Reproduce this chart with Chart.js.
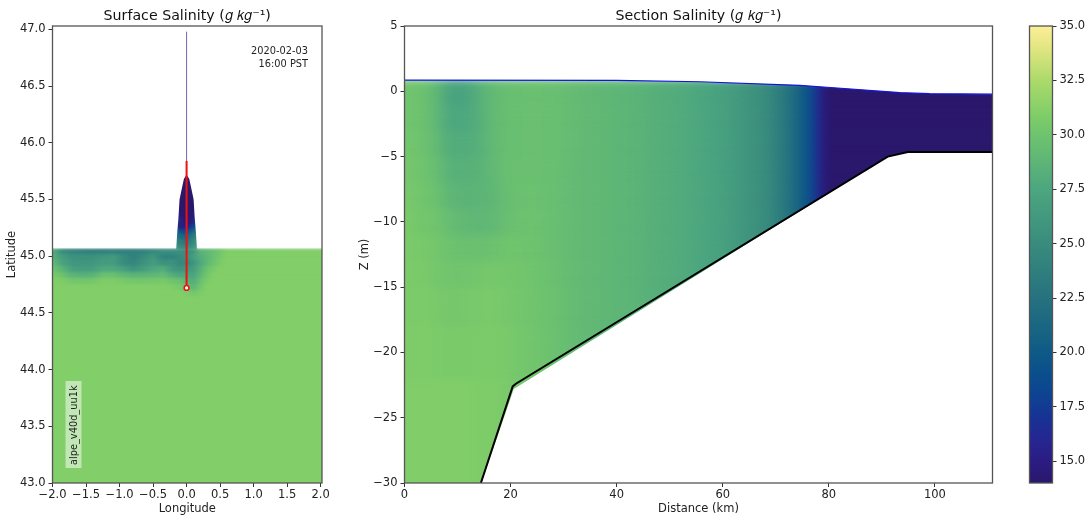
<!DOCTYPE html>
<html>
<head>
<meta charset="utf-8">
<title>Salinity</title>
<script src="https://cdn.jsdelivr.net/npm/chart.js@4"></script>
<style>
  html, body { margin: 0; background: #fff; }
  canvas { position: absolute; top: 0; }
</style>
</head>
<body>
<canvas id="map" width="374" height="520" style="left:0"></canvas>
<canvas id="section" width="717" height="520" style="left:340px"></canvas>
<canvas id="cbar" width="87" height="520" style="left:1000px"></canvas>
<script>
// colormap: salinity value and colour
const cmapSal = [14, 15, 16, 17, 18, 19, 20, 21, 22.5, 25, 27.5, 29, 30, 31, 32.5, 34, 35];
const cmapRgb = [[42,24,108],[43,28,130],[38,38,146],[24,50,148],[14,66,146],[10,78,140],[14,90,135],[24,100,131],[38,114,127],[57,140,125],[76,166,127],[97,184,117],[110,195,110],[130,206,104],[172,218,106],[226,230,130],[253,238,153]];
const cbarTicks = [15, 17.5, 20, 22.5, 25, 27.5, 30, 32.5, 35];

// surface map
const lonTicks = [-2, -1.5, -1, -0.5, 0, 0.5, 1, 1.5, 2];
const latTicks = [43, 43.5, 44, 44.5, 45, 45.5, 46, 46.5, 47];
const mapLon = [-2, -1.85, -1.7, -1.55, -1.4, -1.25, -1.1, -0.95, -0.8, -0.65, -0.5, -0.35, -0.2, -0.1, 0, 0.1, 0.2, 0.3, 0.4, 0.5, 0.6, 2.03];
const mapLat = [45.07, 45.02, 44.97, 44.915, 44.86, 44.81, 44.755, 44.7, 44.65];
const mapSal = [
  [28, 25, 24.2, 24, 23.8, 23.8, 24, 23.8, 23.8, 24, 24.8, 25.3, 25.3, 25.5, 25, 26, 28.5, 29, 29.5, 30.2, 30.9, 31],
  [28.3, 26.5, 25.5, 25.5, 25.5, 26, 26.3, 25, 23.8, 24.8, 26, 24, 24, 24.8, 25.3, 26.8, 28, 28.8, 29.6, 30.4, 31, 31],
  [29.2, 27, 26, 26, 26, 26.5, 26.5, 25, 24.3, 25.5, 26.5, 25.5, 25.5, 24.5, 24.5, 25.8, 27.5, 28.8, 29.8, 30.6, 31, 31],
  [30, 28.5, 26.8, 26.5, 26.7, 27.7, 27.7, 26.9, 25.7, 26.5, 27.5, 28, 26, 25.7, 26, 26.5, 28.2, 29.8, 30.5, 31, 31, 31],
  [30.7, 29.8, 28.6, 28.3, 28.6, 29.6, 29.7, 29, 28.6, 28.7, 28.8, 29.2, 28, 27.5, 27.4, 27.2, 28.7, 30.2, 30.9, 31, 31, 31],
  [31, 30.8, 30.3, 30.2, 30.3, 30.8, 30.8, 30.5, 30.3, 30.3, 30.4, 30.5, 30, 29.6, 28.6, 28, 29.5, 30.6, 31, 31, 31, 31],
  [31, 31, 31, 31, 31, 31, 31, 31, 31, 31, 31, 31, 30.8, 30.5, 29.8, 28.8, 30.2, 31, 31, 31, 31, 31],
  [31, 31, 31, 31, 31, 31, 31, 31, 31, 31, 31, 31, 31, 31, 30.8, 30.3, 30.7, 31, 31, 31, 31, 31],
  [31, 31, 31, 31, 31, 31, 31, 31, 31, 31, 31, 31, 31, 31, 31, 31, 31, 31, 31, 31, 31, 31]
];
const estuaryLon = [-0.16, -0.08, 0, 0.08, 0.16];
const estuaryLat = [45.75, 45.45, 45.38, 45.33, 45.28, 45.24, 45.2, 45.15, 45.1];
const estuaryFloor = [45.39, 45.32, 45.27, 45.22, 45.18, 45.14, 45.09, 45.07, 45.06];
const estuarySal = [
  [14, 14, 14, 14, 14],
  [14.5, 14, 14, 14, 14.5],
  [16, 14.3, 14, 14.3, 16],
  [19, 15, 14.3, 15, 19],
  [17, 15, 15, 18, 20],
  [21, 19, 18.5, 21, 23],
  [23, 21.5, 21, 23, 25],
  [24.5, 23.5, 23, 24.5, 26],
  [25.5, 25, 24.5, 25.5, 27]
];
const shoreLon = [-2.1, -0.155, -0.14, -0.12, -0.105, -0.07, -0.04, 0, 0.04, 0.07, 0.105, 0.12, 0.14, 0.155, 2.1];
const shoreLat = [45.07, 45.07, 45.2, 45.35, 45.5, 45.6, 45.68, 45.72, 45.68, 45.6, 45.5, 45.35, 45.2, 45.07, 45.07];
const riverLon = [0, 0];
const riverLat = [45.7, 46.98];
const transectLon = [0, 0];
const transectLat = [44.72, 45.84];

// section
const distTicks = [0, 20, 40, 60, 80, 100];
const zTicks = [-30, -25, -20, -15, -10, -5, 0, 5];
const sectionDist = [0, 3, 6, 8, 10, 12, 14, 16, 18, 20, 24, 28, 32];
const sectionTop = [1, -1, -3, -5, -7, -9, -11, -13, -15, -18, -22];
const sectionSal = [
  [30.2, 29.9, 29, 27.6, 27, 27.4, 28.3, 29, 29.4, 29.6, 29.7, 29.6, 29.3],
  [30.2, 29.9, 29, 27.8, 27.5, 27.7, 28.2, 28.9, 29.4, 29.6, 29.7, 29.6, 29.3],
  [30.3, 30, 29.2, 28.2, 27.9, 28, 28.3, 28.9, 29.4, 29.6, 29.7, 29.6, 29.3],
  [30.4, 30.1, 29.5, 28.6, 28.3, 28.4, 28.5, 28.9, 29.4, 29.7, 29.7, 29.6, 29.2],
  [30.5, 30.2, 29.8, 29, 28.7, 28.6, 28.7, 28.8, 29.2, 29.6, 29.8, 29.6, 29.2],
  [30.6, 30.3, 30.1, 29.5, 29.2, 29, 28.9, 29, 29.3, 29.7, 29.9, 29.6, 29.2],
  [30.6, 30.5, 30.3, 30, 29.8, 29.7, 29.6, 29.8, 30, 30.1, 30, 29.6, 29.2],
  [30.7, 30.6, 30.4, 30.2, 30.1, 30.2, 30.3, 30.4, 30.4, 30.3, 30.1, 29.7, 29.3],
  [30.7, 30.7, 30.6, 30.4, 30.4, 30.5, 30.5, 30.6, 30.5, 30.4, 30.1, 29.8, 29.3],
  [30.8, 30.8, 30.7, 30.6, 30.6, 30.6, 30.7, 30.7, 30.6, 30.5, 30.2, 29.8, 29.3],
  [30.9, 30.9, 30.9, 30.9, 30.9, 30.9, 30.8, 30.8, 30.7, 30.5, 30.2, 29.8, 29.3]
];
const tailDist = [36, 40, 44, 48, 52, 56, 60, 64, 68, 70, 72, 74, 75.5, 76.8, 78, 78.7, 79.5, 82, 111];
const tailSal = [29, 28.8, 28.6, 28.2, 27.9, 27.5, 26.9, 26, 25, 24, 22.8, 21.2, 19.8, 18.6, 16.3, 15, 14.1, 14, 14];
const surfaceDist = [0, 40, 55.7, 74.5, 79, 93.4, 99, 111];
const surfaceZ = [0.86, 0.84, 0.73, 0.46, 0.33, -0.1, -0.18, -0.22];
const bedDist = [14.4, 20.4, 21, 91.1, 94.9, 111];
const bedZ = [-30, -22.6, -22.4, -5, -4.65, -4.65];
const gridBedDist = [14.5, 20.6, 60, 91.1, 94.9, 111];
const gridBedZ = [-30, -22.8, -12.85, -5, -4.65, -4.65];

Chart.defaults.font.family = '"DejaVu Sans", sans-serif';
Chart.defaults.font.size = 11.5;
Chart.defaults.color = '#222';
Chart.defaults.animation = false;

function salColor(v) {
  let i = 0;
  while (i < cmapSal.length - 2 && v > cmapSal[i + 1]) i++;
  const t = Math.min(1, Math.max(0, (v - cmapSal[i]) / (cmapSal[i + 1] - cmapSal[i])));
  const c = cmapRgb[i].map((a, k) => Math.round(a + (cmapRgb[i + 1][k] - a) * t));
  return `rgb(${c[0]},${c[1]},${c[2]})`;
}

// a row of cells is one filled line, coloured along x by a gradient of its values
function rowGradient(chart, xs, vals) {
  if (!chart.chartArea) return 'transparent';
  const sx = chart.scales.x;
  const g = chart.ctx.createLinearGradient(sx.getPixelForValue(xs[0]), 0, sx.getPixelForValue(xs[xs.length - 1]), 0);
  xs.forEach((x, i) => g.addColorStop((x - xs[0]) / (xs[xs.length - 1] - xs[0]), salColor(vals[i])));
  return g;
}

function rowDataset(xs, top, floor, vals, order, blur, pad) {
  return {
    data: [{ x: xs[0] - pad, y: top }, { x: xs[xs.length - 1] + pad, y: top }],
    fill: { value: floor },
    backgroundColor: ctx => rowGradient(ctx.chart, xs, vals),
    borderWidth: 0,
    pointRadius: 0,
    order,
    blur
  };
}

function lineDataset(xs, ys, color, width, order, extra) {
  return Object.assign({
    data: xs.map((x, i) => ({ x, y: ys[i] })),
    borderColor: color,
    borderWidth: width,
    pointRadius: 0,
    fill: false,
    order
  }, extra);
}

// rows are softened so neighbouring ones run into each other like the shaded mesh
function setBlur(chart, meta) {
  const b = meta && chart.data.datasets[meta.index].blur;
  chart.ctx.filter = b ? `blur(${b}px)` : 'none';
}
const blurPlugin = {
  id: 'rowBlur',
  beforeDatasetsDraw(chart) {
    const metas = chart.getSortedVisibleDatasetMetas();
    setBlur(chart, metas[metas.length - 1]);
  },
  afterDatasetDraw(chart, args) {
    const metas = chart.getSortedVisibleDatasetMetas();
    setBlur(chart, metas[metas.indexOf(args.meta) - 1]);
  },
  afterDatasetsDraw(chart) {
    chart.ctx.filter = 'none';
  }
};

const framePlugin = {
  id: 'frame',
  afterDraw(chart) {
    const a = chart.chartArea, c = chart.ctx;
    c.save();
    c.strokeStyle = '#555';
    c.lineWidth = 1.3;
    c.strokeRect(a.left, a.top, a.right - a.left, a.bottom - a.top);
    c.restore();
  }
};

const labelPlugin = {
  id: 'mapLabels',
  afterDatasetsDraw(chart) {
    const c = chart.ctx;
    c.save();
    c.font = '9.8px "DejaVu Sans"';
    c.fillStyle = '#222';
    c.textAlign = 'right';
    c.fillText('2020-02-03', 308, 54);
    c.fillText('16:00 PST', 308, 67);
    c.fillStyle = 'rgba(255,255,255,0.5)';
    c.fillRect(65.5, 381, 16, 87);
    c.fillStyle = '#222';
    c.translate(77, 465);
    c.rotate(-Math.PI / 2);
    c.textAlign = 'left';
    c.fillText('alpe_v40d_uu1k', 0, 0);
    c.restore();
  }
};

function tickAxis(ticks, opts) {
  return Object.assign({
    type: 'linear',
    afterBuildTicks: s => { s.ticks = ticks.map(value => ({ value })); },
    grid: { drawOnChartArea: false, tickLength: 4, tickColor: '#333', drawTicks: true },
    border: { display: false },
    ticks: {
      autoSkip: false, maxRotation: 0, padding: opts.pad,
      callback: v => String(opts.digits ? v.toFixed(opts.digits) : v).replace('-', '\u2212')
    }
  }, opts.scale);
}

function panelOptions(titleText, xAxis, yAxis, xTitle, yTitle, yWidth, yTitlePad, rightPad) {
  xAxis.title = { display: true, text: xTitle, padding: { top: 0, bottom: 4 } };
  xAxis.afterFit = s => { s.height = 37; };
  yAxis.title = { display: true, text: yTitle, padding: { top: yTitlePad, bottom: 0 } };
  yAxis.afterFit = s => { s.width = yWidth; };
  return {
    responsive: false,
    layout: { padding: { right: rightPad } },
    plugins: {
      legend: { display: false },
      tooltip: { enabled: false },
      title: { display: true, fullSize: false, text: titleText, font: { size: 14.2, weight: 'normal' }, padding: { top: 7.5, bottom: 1.46 }, color: '#111' }
    },
    scales: { x: xAxis, y: yAxis }
  };
}

// surface panel
const mapSets = [];
mapLat.forEach((lat, i) => mapSets.push(rowDataset(mapLon, lat, 42, mapSal[i], 300 - i, 1.5, 0.5)));
estuaryLat.forEach((lat, i) => mapSets.push(rowDataset(estuaryLon, lat, estuaryFloor[i], estuarySal[i], 200 - i, 1.5, 0)));
mapSets.push(lineDataset(shoreLon, shoreLat, 'transparent', 0, 50, { fill: { value: 47.03 }, backgroundColor: '#fff' }));
mapSets.push(lineDataset(riverLon, riverLat, '#6f69ae', 1, 40));
mapSets.push(lineDataset(transectLon, transectLat, '#f01010', 2, 30, {
  pointRadius: [2.4, 0], pointBackgroundColor: '#fff', pointBorderColor: '#f01010', pointBorderWidth: 1.5
}));

new Chart(document.getElementById('map'), {
  type: 'line',
  data: { datasets: mapSets },
  options: panelOptions('Surface Salinity (\u{1D454} \u{1D458}\u{1D454}\u207B\u00B9)',
    tickAxis(lonTicks, { digits: 1, pad: 1, scale: { min: -2, max: 2.02 } }),
    tickAxis(latTicks, { digits: 1, pad: 3, scale: { min: 43, max: 47.03 } }),
    'Longitude', 'Latitude', 52.5, 5, 52),
  plugins: [blurPlugin, framePlugin, labelPlugin]
});

// section panel
const sectionSets = [];
const sectionX = sectionDist.concat(tailDist);
sectionTop.forEach((z, i) => sectionSets.push(rowDataset(sectionX, z, -40, sectionSal[i].concat(tailSal), 300 - i, 5, 10)));
sectionSets.push(lineDataset(gridBedDist, gridBedZ, 'transparent', 0, 60, { fill: { value: -30 }, backgroundColor: '#fff' }));
sectionSets.push(lineDataset(surfaceDist, surfaceZ, '#1414e0', 1.2, 40, { fill: { value: 5 }, backgroundColor: '#fff' }));
sectionSets.push(lineDataset(bedDist, bedZ, '#000', 2, 30));

new Chart(document.getElementById('section'), {
  type: 'line',
  data: { datasets: sectionSets },
  options: panelOptions('Section Salinity (\u{1D454} \u{1D458}\u{1D454}\u207B\u00B9)',
    tickAxis(distTicks, { pad: 1, scale: { min: 0, max: 110.85 } }),
    tickAxis(zTicks, { pad: 3, scale: { min: -30, max: 5 } }),
    'Distance (km)', 'Z (m)', 64.5, 18, 64.5),
  plugins: [blurPlugin, framePlugin]
});

// colorbar
function cbarGradient(chart) {
  if (!chart.chartArea) return 'transparent';
  const sy = chart.scales.y;
  const g = chart.ctx.createLinearGradient(0, sy.getPixelForValue(14), 0, sy.getPixelForValue(35));
  cmapSal.forEach((v, i) => g.addColorStop((v - 14) / 21, salColor(v)));
  return g;
}

new Chart(document.getElementById('cbar'), {
  type: 'line',
  data: {
    datasets: [{
      data: [{ x: 0, y: 35 }, { x: 1, y: 35 }],
      fill: { value: 14 },
      backgroundColor: ctx => cbarGradient(ctx.chart),
      borderWidth: 0,
      pointRadius: 0
    }]
  },
  options: {
    responsive: false,
    layout: { padding: { top: 26, bottom: 37, left: 29.5 } },
    plugins: { legend: { display: false }, tooltip: { enabled: false } },
    scales: {
      x: { type: 'linear', min: 0, max: 1, display: false },
      y: Object.assign(tickAxis(cbarTicks, { digits: 1, pad: 3, scale: { min: 14, max: 35 } }), {
        position: 'right',
        afterFit: s => { s.width = 34.5; }
      })
    }
  },
  plugins: [framePlugin]
});
</script>
</body>
</html>
